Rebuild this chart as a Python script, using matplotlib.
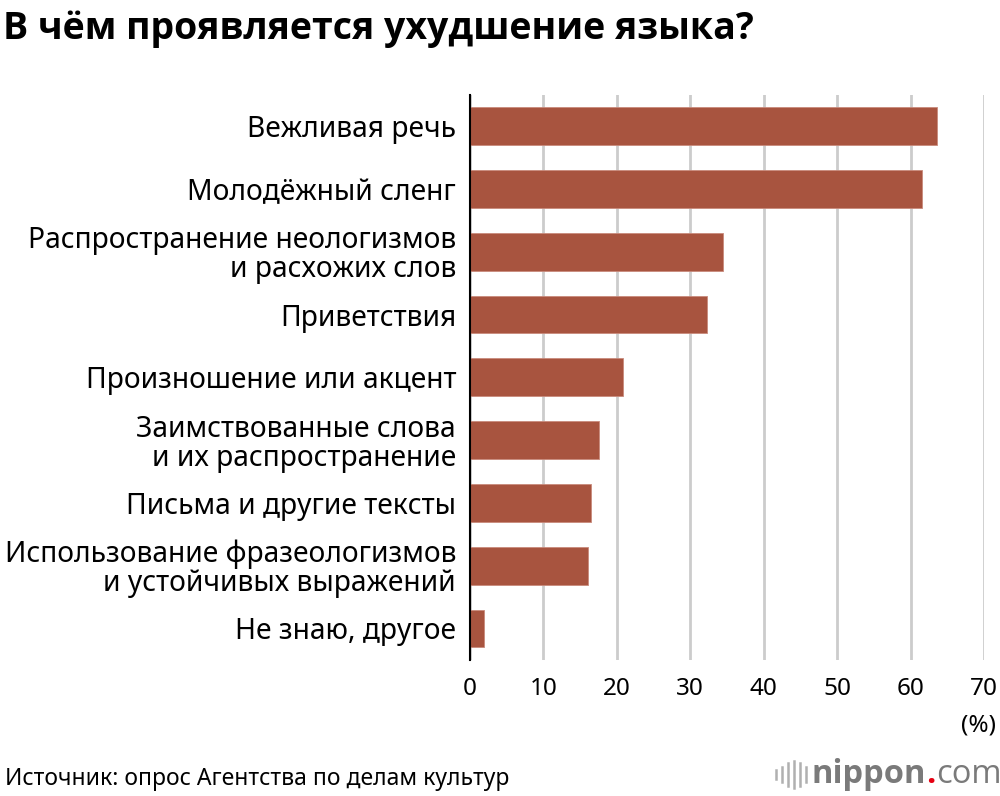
import matplotlib
matplotlib.use("Agg")
import matplotlib.pyplot as plt

categories = [
    "Вежливая речь",
    "Молодёжный сленг",
    "Распространение неологизмов\nи расхожих слов",
    "Приветствия",
    "Произношение или акцент",
    "Заимствованные слова\nи их распространение",
    "Письма и другие тексты",
    "Использование фразеологизмов\nи устойчивых выражений",
    "Не знаю, другое",
]
values = [63.6, 61.5, 34.4, 32.3, 20.8, 17.5, 16.5, 16.1, 1.9]
xticks = [0, 10, 20, 30, 40, 50, 60, 70]

title = "В чём проявляется ухудшение языка?"
source = "Источник: опрос Агентства по делам культур"

plt.rcParams['font.family'] = ['Noto Sans', 'DejaVu Sans']

fig = plt.figure(figsize=(10, 7.96), dpi=100)
ax = fig.add_axes([0.47, 0.171, 0.514, 0.71])

y = list(range(len(categories)))
ax.barh(y, values, height=0.6, color="#A8543F", edgecolor="#C98A7C", linewidth=0.6, zorder=3)
ax.set_ylim(len(categories) - 0.5, -0.5)
ax.set_xlim(0, 70)
ax.set_xticks(xticks)
ax.set_xticklabels([str(t) for t in xticks], fontsize=17.5)
ax.set_yticks(y)
ax.set_yticklabels(categories, fontsize=20.3, linespacing=1.0)
ax.tick_params(axis='x', length=0, pad=12)
ax.tick_params(axis='y', length=0, pad=10)
ax.grid(axis='x', color="#CCCCCC", linewidth=2, zorder=0)
for s in ['top', 'right', 'bottom']:
    ax.spines[s].set_visible(False)
ax.spines['left'].set_color('black')
ax.spines['left'].set_linewidth(1.5)
ax.spines['left'].set_zorder(4)

fig.text(0.003, 0.963, title, fontsize=27, fontweight='bold', ha='left', va='center',
         family=['Open Sans', 'DejaVu Sans'], fontstretch='condensed')
fig.text(0.996, 0.088, "(%)", fontsize=17.5, ha='right', va='center')
fig.text(0.005, 0.021, source, fontsize=16.5, ha='left', va='center')

# logo
ly = 0.027
fs = 23.5
t1 = fig.text(0.812, ly, "nippon", fontsize=fs, fontweight='bold', color="#7A7A7A",
              ha='left', va='center', family=['Open Sans', 'DejaVu Sans'])
fig.canvas.draw()
bb = t1.get_window_extent()
x1 = bb.x1 / fig.bbox.width
t2 = fig.text(x1, ly, ".", fontsize=fs, fontweight='bold', color="#E60012", ha='left', va='center',
              family=['Open Sans', 'DejaVu Sans'])
fig.canvas.draw()
bb2 = t2.get_window_extent()
x2 = bb2.x1 / fig.bbox.width
fig.text(x2, ly, "com", fontsize=fs, color="#7A7A7A", ha='left', va='center',
         family=['Open Sans', 'DejaVu Sans'])
# sound-wave icon bars
hs = [0.012, 0.020, 0.028, 0.034, 0.028, 0.020]
for i, h in enumerate(hs):
    xx = 0.776 + i * 0.006
    fig.add_artist(plt.Line2D([xx, xx], [ly - h / 2, ly + h / 2], color="#B0B0B0",
                              linewidth=1.8, transform=fig.transFigure))

fig.savefig("out.png", dpi=100)
